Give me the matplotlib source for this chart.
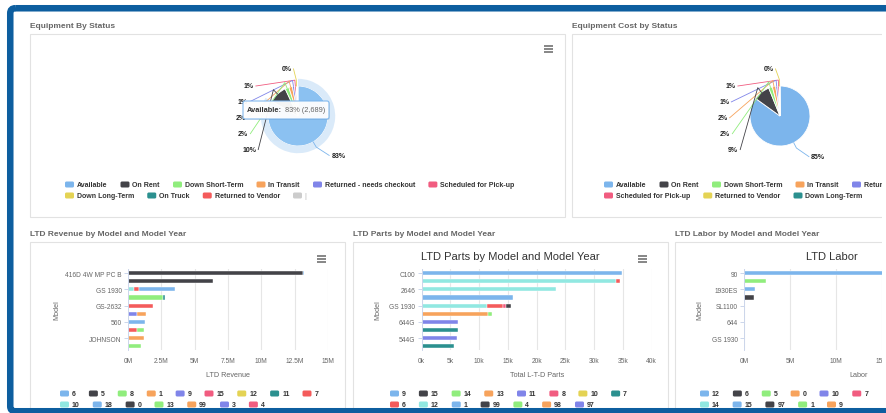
import numpy as np
import matplotlib.pyplot as plt
from matplotlib.patches import Rectangle, FancyBboxPatch, Wedge

plt.rcParams['font.family'] = ['Liberation Sans', 'DejaVu Sans']

W, H = 887, 414

# ---------------- data ----------------
hc_colors = ['#7cb5ec', '#434348', '#90ed7d', '#f7a35c', '#8085e9',
             '#f15c80', '#e4d354', '#2b908f', '#f45b5b', '#91e8e1']

# Equipment by status (unit counts), last item is hidden in the legend
status_names = ['Available', 'On Rent', 'Down Short-Term', 'In Transit',
                'Returned - needs checkout', 'Scheduled for Pick-up',
                'Down Long-Term', 'On Truck', 'Returned to Vendor', '|']
status_counts = [2689, 320, 68, 62, 37, 30, 12, 8, 10, 4]
status_hidden = [9]

# Equipment cost by status ($)
cost_names = ['Available', 'On Rent', 'Down Short-Term', 'In Transit',
              'Returned - needs checkout', 'Scheduled for Pick-up',
              'Returned to Vendor', 'Down Long-Term']
cost_values = [8500, 900, 200, 180, 110, 90, 20, 10]
cost_colors = ['#7cb5ec', '#434348', '#90ed7d', '#f7a35c', '#8085e9',
               '#f15c80', '#e4d354', '#2b908f']

# LTD revenue ($M) - one list per model-year series, one value per model row
rev_models = ['416D 4W MP PC B', '', 'GS 1930', '', 'GS-2632', '', '560', '', 'JOHNSON', '']
rev_series = ['6', '5', '8', '1', '9', '15', '12', '11', '7', '10', '18', '0', '13', '99', '3', '4']
rev_values = [
    [0.12, 0, 2.75, 0, 0, 0, 0, 0, 0, 0],     # 6
    [13.1, 0, 0, 0, 0, 0, 0, 0, 0, 0],        # 5
    [0, 0, 0, 0, 0, 0, 0, 0.55, 0, 1.0],      # 8
    [0, 0, 0, 0, 0, 0, 0, 0, 1.18, 0],        # 1
    [0] * 10,                                 # 9
    [0] * 10,                                 # 15
    [0] * 10,                                 # 12
    [0, 0, 0, 0.1, 0, 0, 0, 0, 0, 0],         # 11
    [0, 0, 0.35, 0, 1.9, 0, 0, 0.68, 0, 0],   # 7
    [0, 0, 0.45, 0, 0, 0, 0, 0, 0, 0],        # 10
    [0, 0, 0, 0, 0, 0, 1.28, 0, 0, 0],        # 18
    [0, 6.4, 0, 0, 0, 0, 0, 0, 0, 0],         # 0
    [0, 0, 0, 2.65, 0, 0, 0, 0, 0, 0],        # 13
    [0, 0, 0, 0, 0, 0.65, 0, 0, 0, 0],        # 99
    [0, 0, 0, 0, 0, 0.7, 0, 0, 0, 0],         # 3
    [0] * 10,                                 # 4
]

# LTD parts (k)
parts_models = ['C100', '', '2646', '', 'GS 1930', '', '644G', '', '544G', '']
parts_series = ['9', '15', '14', '13', '11', '8', '10', '7', '6', '12', '1', '99', '4', '98', '97']
parts_values = [
    [0, 0, 0, 15.9, 0, 0, 0, 0, 0, 0],        # 9
    [0, 0, 0, 0, 1.0, 0, 0, 0, 0, 0],         # 15
    [0] * 10,                                 # 14
    [0] * 10,                                 # 13
    [0, 0, 0, 0, 0, 0, 6.4, 0, 0, 0],         # 11
    [0, 0, 0, 0, 0.4, 0, 0, 0, 0, 0],         # 8
    [0] * 10,                                 # 10
    [0, 0, 0, 0, 0, 0, 0, 6.3, 0, 5.7],       # 7
    [0, 0.7, 0, 0, 2.9, 0, 0, 0, 0, 0],       # 6
    [0, 33.8, 23.4, 0, 11.3, 0, 0, 0, 0, 0],  # 12
    [34.8, 0, 0, 0, 0, 0, 0, 0, 0, 0],        # 1
    [0] * 10,                                 # 99
    [0, 0, 0, 0, 0, 0.6, 0, 0, 0, 0],         # 4
    [0, 0, 0, 0, 0, 11.6, 0, 0, 0, 0],        # 98
    [0, 0, 0, 0, 0, 0, 0, 0, 6.2, 0],         # 97
]

# LTD labor ($M)
labor_models = ['90', '', '1930ES', '', 'SL1100', '', '644', '', 'GS 1930', '']
labor_series = ['12', '6', '5', '0', '10', '7', '14', '15', '97', '1', '9']
labor_colors = ['#7cb5ec', '#434348', '#90ed7d', '#f7a35c', '#8085e9', '#f15c80',
                '#91e8e1', '#7cb5ec', '#434348', '#90ed7d', '#f7a35c']
labor_values = [
    [21.5, 0, 0, 0, 0, 0, 0, 0, 0, 0],        # 12
    [0, 0, 0, 1.1, 0, 0, 0, 0, 0, 0],         # 6
    [0, 2.35, 0, 0, 0, 0, 0, 0, 0, 0],        # 5
    [0] * 10,                                 # 0
    [0] * 10,                                 # 10
    [0] * 10,                                 # 7
    [0, 0, 0, 0, 0.06, 0, 0, 0, 0, 0],        # 14
    [0, 0, 1.15, 0, 0, 0, 0, 0, 0, 0],        # 15
    [0] * 10,                                 # 97
    [0] * 10,                                 # 1
    [0] * 10,                                 # 9
]

# ---------------- figure ----------------
fig = plt.figure(figsize=(W / 100, H / 100), dpi=100)
fig.patch.set_facecolor('white')


def px_axes(x0, y0, x1, y1, z):
    return fig.add_axes([x0 / W, 1 - y1 / H, (x1 - x0) / W, (y1 - y0) / H], zorder=z)


bg = px_axes(0, 0, W, H, 0)
bg.set_xlim(0, W); bg.set_ylim(H, 0); bg.axis('off')
top = px_axes(0, 0, W, H, 10)
top.set_xlim(0, W); top.set_ylim(H, 0); top.axis('off')
renderer = fig.canvas.get_renderer()

# panels + headings
panels = [(30, 35, 565, 218), (572, 35, 990, 218),
          (30, 243, 345, 430), (353, 243, 668, 430), (675, 243, 990, 430)]
headings = ['Equipment By Status', 'Equipment Cost by Status',
            'LTD Revenue by Model and Model Year', 'LTD Parts by Model and Model Year',
            'LTD Labor by Model and Model Year']
for (x0, y0, x1, y1), t in zip(panels, headings):
    bg.add_patch(Rectangle((x0, y0), x1 - x0, y1 - y0, fc='white', ec='#e2e2e2', lw=0.8))
    bg.text(x0, y0 - 8.5, t, fontsize=6, weight='bold', color='#666', va='center', ha='left')


def menu_icon(x, y):
    for dy in (-3, 0, 3):
        bg.plot([x - 4.5, x + 4.5], [y + dy, y + dy], color='#666', lw=1.1,
                solid_capstyle='butt')


for mx, my in [(549, 50), (322, 260), (643, 260)]:
    menu_icon(mx, my)


def legend(names, colors, x0, y0, wrap, hidden=()):
    x, y = x0, y0
    for i, (name, col) in enumerate(zip(names, colors)):
        tc = '#333333'
        if i in hidden:
            col = tc = '#cccccc'
        t = bg.text(0, y, name, fontsize=5, weight='bold', color=tc, va='center', ha='left')
        w = t.get_window_extent(renderer).width
        if x > x0 and x + 12 + w - x0 > wrap:
            x, y = x0, y + 11
        t.set_position((x + 12, y))
        bg.add_patch(FancyBboxPatch((x, y - 3), 9, 6, boxstyle='round,pad=0,rounding_size=1.5',
                                    fc=col, ec='none'))
        x += 12 + w + 13


# ---------------- pies ----------------
R_PX = 30


def pie_chart(cx, cy, values, colors, hover=None):
    S = 80
    ax = px_axes(cx - S, cy - S, cx + S, cy + S, 3)
    wedges, _ = ax.pie(values, colors=colors, startangle=90, counterclock=False,
                       wedgeprops=dict(edgecolor='white', linewidth=0.6))
    lim = S / R_PX
    ax.set_xlim(-lim, lim); ax.set_ylim(-lim, lim)
    if hover is not None:
        w = wedges[hover]
        ax.add_patch(Wedge((0, 0), 1.24, w.theta1, w.theta2, width=0.24,
                           fc=colors[hover], alpha=0.28, ec='none'))
        w.set_facecolor('#8bc1f1')
    total = sum(values)
    pct = [round(100 * v / total) for v in values]
    mid = [np.deg2rad((w.theta1 + w.theta2) / 2) for w in wedges]
    lab = dict(fontsize=5, weight='bold', color='#222', va='center')
    left = [i for i in range(len(values)) if np.cos(mid[i]) < 0]
    zeros = [i for i in left if pct[i] == 0]
    # only one of the 0% labels has room near the top
    left = [i for i in left if pct[i] > 0 or i == zeros[0]]
    left.sort(key=lambda i: mid[i] % (2 * np.pi))
    for k, i in enumerate(left):
        if k == 0:
            lx, ly = -0.22, 1.57
        else:
            ly = 1.0 - 0.53 * (k - 1)
            lx = -np.sqrt(1.95 ** 2 - ly ** 2) + 0.2
        ax.text(lx, ly, f'{pct[i]}%', ha='right', **lab)
        ex, ey = np.cos(mid[i]), np.sin(mid[i])
        ax.plot([lx + 0.07, 1.2 * ex, ex], [ly, 1.2 * ey, ey], color=colors[i], lw=0.6)
    for i in range(len(values)):
        if np.cos(mid[i]) >= 0:
            ex, ey = np.cos(mid[i]), np.sin(mid[i])
            lx, ly = 1.5 * ex + 0.35, 1.5 * ey - 0.02
            ax.text(lx, ly, f'{pct[i]}%', ha='left', **lab)
            ax.plot([ex, 1.2 * ex, lx - 0.07], [ey, 1.2 * ey, ly], color=colors[i], lw=0.6)
    return pct


shown = [i for i in range(len(status_names)) if i not in status_hidden]
status_pct = pie_chart(298, 117, [status_counts[i] for i in shown],
                       [hc_colors[i] for i in shown], hover=0)
pie_chart(780, 117, cost_values, cost_colors)

legend(status_names, hc_colors, 65, 185.5, 470, hidden=status_hidden)
legend(cost_names, cost_colors, 604, 185.5, 390)

# tooltip over the hovered slice
top.add_patch(FancyBboxPatch((244, 103), 86, 18, boxstyle='round,pad=0,rounding_size=2',
                             fc='black', ec='none', alpha=0.08))
top.add_patch(FancyBboxPatch((243, 102), 86, 18, boxstyle='round,pad=0,rounding_size=2',
                             fc='white', ec='#7cb5ec', lw=0.8, alpha=0.95))
t1 = top.text(247, 111, status_names[0] + ':', fontsize=5.3, weight='bold', color='#333',
              va='center')
w1 = t1.get_window_extent(renderer).width
top.text(247 + w1 + 3, 111, f'{status_pct[0]}% ({status_counts[0]:,})', fontsize=5.3,
         color='#666', va='center')


# ---------------- bar charts ----------------
def bar_chart(box, models, series, colors, values, xmax, step, unit, xlabel):
    ax = px_axes(*box, 2)
    n = len(models)
    y = np.arange(n)
    base = np.zeros(n)
    # first series ends up farthest from the axis
    for col, vals in reversed(list(zip(colors, values))):
        vals = np.array(vals, float)
        m = vals > 0
        ax.barh(y[m], vals[m], left=base[m], height=0.5, color=col,
                edgecolor='white', linewidth=0.3)
        base += vals
    ax.set_ylim(n - 0.5, -0.5)
    ax.set_xlim(0, xmax)
    ticks = np.arange(0, xmax + step / 2, step)
    ax.set_xticks(ticks, [f'{t:g}{unit}' for t in ticks])
    idx = [i for i, mname in enumerate(models) if mname]
    ax.set_yticks(idx, [models[i] for i in idx])
    ax.tick_params(axis='x', length=0, pad=5, labelsize=4.8, labelcolor='#666')
    ax.tick_params(axis='y', length=3, width=0.7, color='#ccd6eb', pad=1.5,
                   labelsize=4.8, labelcolor='#666')
    ax.grid(axis='x', color='#e6e6e6', lw=0.8)
    ax.set_axisbelow(True)
    for s in ['top', 'right', 'bottom']:
        ax.spines[s].set_visible(False)
    ax.spines['left'].set_color('#ccd6eb')
    ax.spines['left'].set_linewidth(0.7)
    ax.set_xlabel(xlabel, fontsize=5.2, color='#666', labelpad=5)
    return ax


bar_chart((128, 270, 328, 351.4), rev_models, rev_series,
          [hc_colors[i % 10] for i in range(len(rev_series))], rev_values, 15, 2.5, 'M',
          'LTD Revenue')
bar_chart((421.7, 270, 651.7, 351.4), parts_models, parts_series,
          [hc_colors[i % 10] for i in range(len(parts_series))], parts_values, 40, 5, 'k',
          'Total L-T-D Parts')
bar_chart((744, 270, 974, 351.4), labor_models, labor_series, labor_colors,
          labor_values, 25, 5, 'M', 'Labor')

for mx in (57, 378, 700):
    bg.text(mx, 310, 'Model', rotation=90, fontsize=5.2, color='#666', ha='center', va='center')
bg.text(510.5, 257, 'LTD Parts by Model and Model Year', fontsize=8, color='#333',
        ha='center', va='center')
bg.text(832, 257, 'LTD Labor', fontsize=8, color='#333', ha='center', va='center')

legend(rev_series, [hc_colors[i % 10] for i in range(len(rev_series))], 60, 394.5, 270)
legend(parts_series, [hc_colors[i % 10] for i in range(len(parts_series))], 390, 394.5, 255)
legend(labor_series, labor_colors, 700, 394.5, 190)

# page is cut on the right, blue frame around the dashboard
top.add_patch(Rectangle((882, 13), 10, 397, fc='white', ec='none'))
top.add_patch(FancyBboxPatch((10.25, 9.25), 900, 403, boxstyle='round,pad=0,rounding_size=5',
                             fc='none', ec='#0d5e9f', lw=4.7))

fig.savefig('out.png', dpi=100)
